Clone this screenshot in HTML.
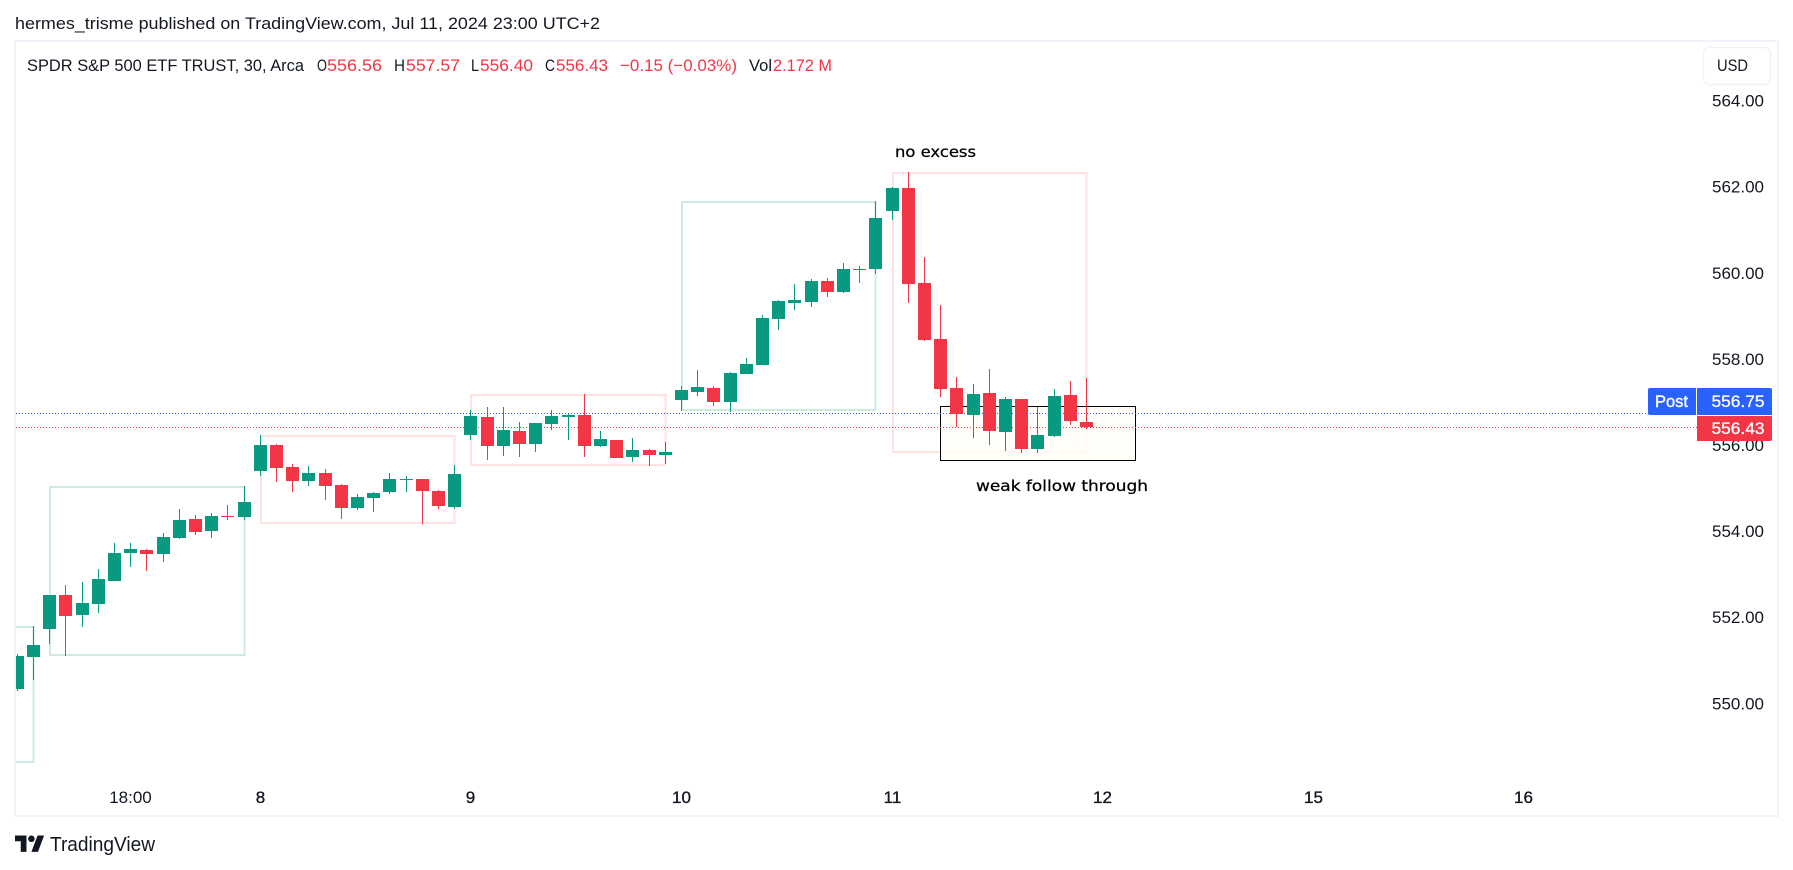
<!DOCTYPE html>
<html lang="en">
<head>
<meta charset="utf-8">
<title>SPDR S&amp;P 500 ETF TRUST chart</title>
<style>
html,body{margin:0;padding:0;background:#fff;width:1793px;height:870px;overflow:hidden}
svg{display:block;position:absolute;left:0;top:0}
text{font-family:"Liberation Sans",sans-serif;fill:#131722}
</style>
</head>
<body>
<svg id="chart" width="1793" height="870" viewBox="0 0 1793 870" xmlns="http://www.w3.org/2000/svg">
  <defs><clipPath id="plot-clip"><rect x="16" y="42" width="1681" height="774"/></clipPath></defs>
  <text x="15" y="29" font-size="17" textLength="585" lengthAdjust="spacingAndGlyphs">hermes_trisme published on TradingView.com, Jul 11, 2024 23:00 UTC+2</text>
  <rect x="15" y="41" width="1763" height="775" fill="#fff" stroke="#f0f3fa" stroke-width="2"/>
  <g id="plot" clip-path="url(#plot-clip)">
    <g id="boxes"></g>
    <g id="price-lines"></g>
    <g id="candles"></g>
  </g>
  <g font-size="17">
    <text x="27" y="71" textLength="277" lengthAdjust="spacingAndGlyphs">SPDR S&amp;P 500 ETF TRUST, 30, Arca</text>
    <text x="317" y="71" textLength="10" lengthAdjust="spacingAndGlyphs">O</text>
    <text x="327" y="71" style="fill:#f23645" textLength="55" lengthAdjust="spacingAndGlyphs">556.56</text>
    <text x="394" y="71" textLength="11" lengthAdjust="spacingAndGlyphs">H</text>
    <text x="406" y="71" style="fill:#f23645" textLength="54" lengthAdjust="spacingAndGlyphs">557.57</text>
    <text x="471" y="71" textLength="8" lengthAdjust="spacingAndGlyphs">L</text>
    <text x="480" y="71" style="fill:#f23645" textLength="53" lengthAdjust="spacingAndGlyphs">556.40</text>
    <text x="545" y="71" textLength="10" lengthAdjust="spacingAndGlyphs">C</text>
    <text x="556" y="71" style="fill:#f23645" textLength="52" lengthAdjust="spacingAndGlyphs">556.43</text>
    <text x="620" y="71" style="fill:#f23645" textLength="117" lengthAdjust="spacingAndGlyphs">−0.15 (−0.03%)</text>
    <text x="749" y="71" textLength="23" lengthAdjust="spacingAndGlyphs">Vol</text>
    <text x="773" y="71" style="fill:#f23645" textLength="59" lengthAdjust="spacingAndGlyphs">2.172 M</text>
  </g>
  <text x="895" y="157" style="font-family:'DejaVu Sans',sans-serif;fill:#000;stroke:#000;stroke-width:.25" font-size="15" textLength="81" lengthAdjust="spacingAndGlyphs">no excess</text>
  <text x="976" y="491" style="font-family:'DejaVu Sans',sans-serif;fill:#000;stroke:#000;stroke-width:.25" font-size="15" textLength="172" lengthAdjust="spacingAndGlyphs">weak follow through</text>
  <g id="price-axis"></g>
  <g id="time-axis"></g>
  <g>
    <rect x="1703.5" y="47.5" width="67" height="37" rx="6" fill="#fff" stroke="#f0f3fa" stroke-width="1.5"/>
    <text x="1717" y="71" font-size="17" textLength="31" lengthAdjust="spacingAndGlyphs">USD</text>
  </g>
  <g id="tags">
    <path d="M1696 388H1650a2 2 0 0 0 -2 2V413a2 2 0 0 0 2 2H1696Z" fill="#2962ff"/>
    <text x="1655" y="407" font-size="17" style="fill:#fff;stroke:#fff;stroke-width:.4" textLength="33" lengthAdjust="spacingAndGlyphs">Post</text>
    <path d="M1697 388H1770a2 2 0 0 1 2 2V415H1697Z" fill="#2962ff"/>
    <text x="1711.5" y="407" font-size="17" style="fill:#fff;stroke:#fff;stroke-width:.3" textLength="53" lengthAdjust="spacingAndGlyphs">556.75</text>
    <path d="M1697 416H1772V439a2 2 0 0 1 -2 2H1697Z" fill="#f23645"/>
    <text x="1711.5" y="434" font-size="17" style="fill:#fff;stroke:#fff;stroke-width:.3" textLength="53" lengthAdjust="spacingAndGlyphs">556.43</text>
  </g>
  <g>
    <g transform="translate(15,835.5) scale(0.82)" fill="#131722">
      <path d="M14 20H7V7H0V0h14v20zM28 20h-8l7.5-20h8L28 20z"/><circle cx="20" cy="4" r="4"/>
    </g>
    <text x="50" y="851" font-size="20" textLength="105" lengthAdjust="spacingAndGlyphs">TradingView</text>
  </g>
</svg>
<script>
// Candle values (USD), one entry per 30-minute bar
const opens = [550.36,551.11,551.76,552.54,552.08,552.34,552.87,553.52,553.58,553.50,553.87,554.30,554.03,554.37,554.36,
555.43,556.02,555.51,555.19,555.37,555.09,554.57,554.80,554.92,555.22,555.23,554.95,554.59,
556.26,556.67,556.01,556.35,556.05,556.52,556.68,556.72,556.01,556.14,555.75,555.91,555.78,
557.07,557.26,557.35,557.03,557.68,557.89,558.96,559.33,559.35,559.83,559.58,560.11,560.10,
561.47,561.99,559.79,558.49,557.35,556.73,557.23,556.33,557.09,555.94,556.24,557.18,556.56];
const highs = [551.18,551.82,552.54,552.77,552.84,553.14,553.75,553.75,553.61,553.98,554.54,554.40,554.44,554.63,555.07,
556.26,556.05,555.58,555.54,555.47,555.12,554.89,554.93,555.37,555.30,555.23,554.98,555.56,
556.84,556.91,556.91,556.56,556.53,556.84,556.74,557.21,556.35,556.14,556.19,555.93,556.09,
557.39,557.77,557.39,557.72,558.04,559.04,559.39,559.76,559.88,559.90,560.25,560.18,561.69,
562.02,562.36,560.39,559.28,557.60,557.44,557.79,557.14,557.09,556.91,557.32,557.51,557.57];
const lows = [550.32,550.57,551.39,551.12,551.80,552.11,552.87,553.20,553.10,553.31,553.85,553.94,553.87,554.27,554.27,
555.30,555.16,554.94,555.07,554.75,554.30,554.51,554.47,554.89,554.93,554.19,554.54,554.54,
556.14,555.68,555.77,555.74,555.86,556.37,556.14,555.74,555.98,555.73,555.63,555.54,555.58,
556.81,557.16,556.93,556.79,557.68,557.89,558.69,559.16,559.23,559.46,559.55,559.79,560.00,
561.25,559.32,558.44,557.14,556.44,556.19,556.02,555.88,555.84,555.84,556.21,556.49,556.40];
const closes = [551.12,551.38,552.54,552.06,552.35,552.91,553.51,553.61,553.50,553.89,554.28,554.01,554.37,554.35,554.70,
556.02,555.50,555.19,555.37,555.08,554.57,554.82,554.91,555.23,555.23,554.96,554.61,555.35,
556.70,556.01,556.37,556.05,556.53,556.70,556.72,556.01,556.16,555.73,555.91,555.78,555.86,
557.30,557.37,557.03,557.70,557.90,558.97,559.37,559.39,559.83,559.58,560.11,560.09,561.30,
561.99,559.77,558.46,557.33,556.75,557.21,556.36,557.09,555.94,556.26,557.16,556.59,556.43];

// Axis labels
const priceTicks = [564,562,560,558,556,554,552,550];
const timeTickBars = [7,15,28,41,54,67,80,93];
const timeTickLabels = ["18:00","8","9","10","11","12","15","16"];
const timeTickIsDay = [false,true,true,true,true,true,true,true];

// Annotation boxes: first bar, last bar, upper price, lower price, kind
const boxStartBars = [-3,2,15,28,41,54];
const boxEndBars = [1,14,27,40,53,66];
const boxUpperPrices = [551.80,555.05,556.23,557.18,561.67,562.34];
const boxLowerPrices = [548.67,551.15,554.21,555.56,556.83,555.86];
const boxKinds = ["up","up","down","down","up","down"];

// "Weak follow through" highlight box
const focusBox = [57,69,556.92,555.67];

// Current price lines
const postPrice = 556.75;
const lastPrice = 556.43;

const GREEN = "#089981", RED = "#f23645";
const NS = "http://www.w3.org/2000/svg";
const xOf = i => Math.floor(17.3 + 16.2 * i);
const yOf = p => Math.round(446 + (556 - p) * 43.05);
const yRaw = p => 446 + (556 - p) * 43.05;

function mk(parent, tag, attrs, text) {
  const el = document.createElementNS(NS, tag);
  for (const k in attrs) el.setAttribute(k, attrs[k]);
  if (text !== undefined) el.textContent = text;
  parent.appendChild(el);
  return el;
}

const boxesG = document.getElementById("boxes");
boxStartBars.forEach((s, i) => {
  const x1 = xOf(s) + 1, x2 = xOf(boxEndBars[i]) + 0.5;
  const y1 = yOf(boxUpperPrices[i]), y2 = yOf(boxLowerPrices[i]);
  const el = mk(boxesG, "rect", {x:x1, y:y1, width:x2 - x1, height:y2 - y1, fill:"none",
    stroke: boxKinds[i] === "up" ? "#cdeae5" : "#fde2df", "stroke-width":2});
  
  
});
const fx1 = xOf(focusBox[0]) + 0.5, fx2 = xOf(focusBox[1]) + 0.5;
const fy1 = yOf(focusBox[2]) + 0.5, fy2 = yOf(focusBox[3]) + 0.5;
const focusEl = mk(boxesG, "rect", {x:fx1, y:fy1, width:fx2 - fx1, height:fy2 - fy1, fill:"#fffef8", "fill-opacity":0.8, stroke:"#000", "stroke-width":1});



const linesG = document.getElementById("price-lines");
const postLine = mk(linesG, "line", {x1:16, x2:1648, y1:Math.floor(yRaw(postPrice)) + 0.5, y2:Math.floor(yRaw(postPrice)) + 0.5, stroke:"#2962ff", "stroke-width":1, "stroke-dasharray":"1 2"});


const lastLine = mk(linesG, "line", {x1:16, x2:1697, y1:Math.floor(yRaw(lastPrice)) + 0.5, y2:Math.floor(yRaw(lastPrice)) + 0.5, stroke:"#f23645", "stroke-width":1, "stroke-dasharray":"1 2"});



const candlesG = document.getElementById("candles");
opens.forEach((o, i) => {
  const c = closes[i], col = c >= o ? GREEN : RED;
  const x = xOf(i);
  const top = yOf(Math.max(o, c)), bot = yOf(Math.min(o, c));
  const yh = yOf(highs[i]), yl = yOf(lows[i]);
  const wick = mk(candlesG, "rect", {x:x, y:yh, width:1, height:Math.max(1, yl - yh), fill:col, "shape-rendering":"crispEdges"});
  
  
  const body = mk(candlesG, "rect", {x:x - 6, y:top, width:13, height:Math.max(1, bot - top), fill:col, "shape-rendering":"crispEdges"});
  
  
});

const priceG = document.getElementById("price-axis");
priceTicks.forEach(p => {
  const t = mk(priceG, "text", {x:1712, y:yRaw(p) + 5, "font-size":17, textLength:52, lengthAdjust:"spacingAndGlyphs"}, p.toFixed(2));
  
  
});

const timeG = document.getElementById("time-axis");
timeTickBars.forEach((b, i) => {
  const a = {x:xOf(b) + 0.5, y:803, "font-size":17, "text-anchor":"middle"};
  if (timeTickIsDay[i]) { a.style = "stroke:#131722;stroke-width:.35"; }
  const t = mk(timeG, "text", a, timeTickLabels[i]);
  
  
});
</script>
</body>
</html>
